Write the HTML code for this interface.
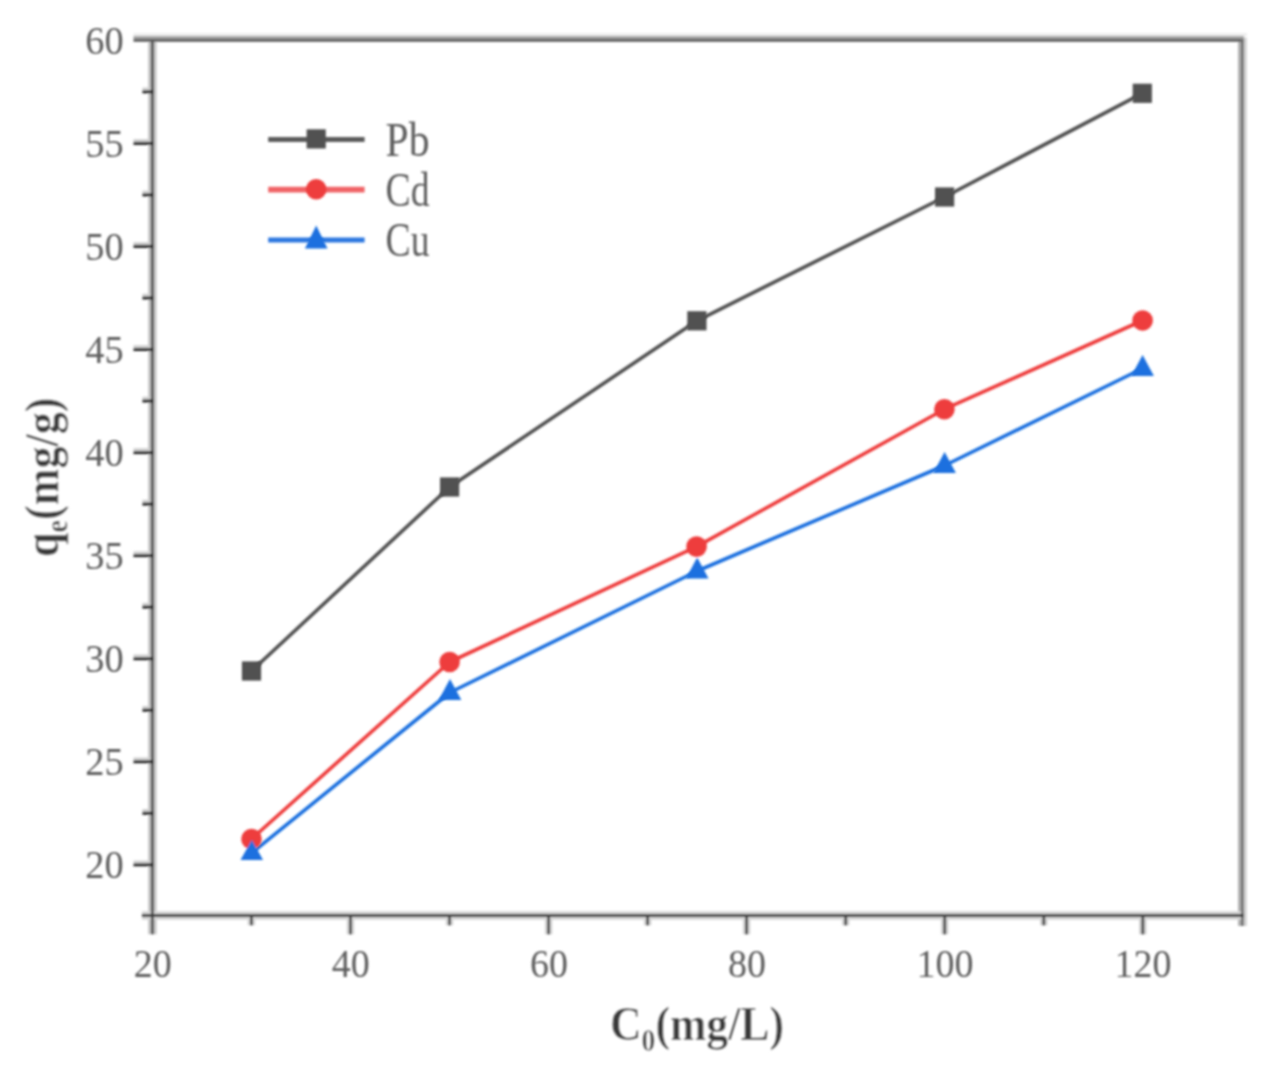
<!DOCTYPE html>
<html lang="en"><head><meta charset="utf-8"><title>Adsorption isotherm chart</title>
<style>
html,body{margin:0;padding:0;background:#fff;}
body{width:1265px;height:1078px;overflow:hidden;}
svg{display:block;}
text{font-family:"Liberation Serif","Noto Serif CJK SC",serif;}
.tick{font-size:41px;fill:#5e5e5e;}
.leg{font-size:49px;fill:#5e5e5e;}
.ttl{font-size:49px;font-weight:bold;fill:#3a3a3a;stroke:#fff;stroke-width:0.55px;paint-order:fill stroke;}
</style></head><body>
<svg width="1265" height="1078" viewBox="0 0 1265 1078">
<defs>
<filter id="ba" x="0" y="0" width="1265" height="1078" filterUnits="userSpaceOnUse"><feGaussianBlur stdDeviation="0.9"/></filter>
<filter id="b" x="0" y="0" width="1265" height="1078" filterUnits="userSpaceOnUse"><feGaussianBlur stdDeviation="1.15"/></filter>
<filter id="bm" x="0" y="0" width="1265" height="1078" filterUnits="userSpaceOnUse"><feGaussianBlur stdDeviation="1.0"/></filter>
<filter id="bt" x="0" y="0" width="1265" height="1078" filterUnits="userSpaceOnUse"><feGaussianBlur stdDeviation="1.0"/></filter>
</defs>
<rect width="1265" height="1078" fill="#ffffff"/>

<g filter="url(#ba)">
<line x1="133.5" y1="34.6" x2="1247.0" y2="34.6" stroke="#eeeeee" stroke-width="3.0"/>
<line x1="133.5" y1="37.5" x2="1243.9" y2="37.5" stroke="#a2a2a2" stroke-width="2.9"/>
<line x1="1239.5" y1="40.4" x2="1239.5" y2="926.0" stroke="#b2b2b2" stroke-width="3.0"/>
<line x1="1245.4" y1="37.4" x2="1245.4" y2="926.0" stroke="#d2d2d2" stroke-width="3.0"/>
<line x1="152.4" y1="40.4" x2="152.4" y2="934.3" stroke="#c9c9c9" stroke-width="8.6"/>
<line x1="141.9" y1="915.5" x2="1243.9" y2="915.5" stroke="#d4d4d4" stroke-width="8.3"/>
<line x1="133.5" y1="861.9" x2="152.4" y2="861.9" stroke="#d0d0d0" stroke-width="2.8"/>
<line x1="142.4" y1="810.4" x2="152.4" y2="810.4" stroke="#d0d0d0" stroke-width="2.8"/>
<line x1="133.5" y1="758.8" x2="152.4" y2="758.8" stroke="#d0d0d0" stroke-width="2.8"/>
<line x1="142.4" y1="707.3" x2="152.4" y2="707.3" stroke="#d0d0d0" stroke-width="2.8"/>
<line x1="133.5" y1="655.8" x2="152.4" y2="655.8" stroke="#d0d0d0" stroke-width="2.8"/>
<line x1="142.4" y1="604.2" x2="152.4" y2="604.2" stroke="#d0d0d0" stroke-width="2.8"/>
<line x1="133.5" y1="552.7" x2="152.4" y2="552.7" stroke="#d0d0d0" stroke-width="2.8"/>
<line x1="142.4" y1="501.2" x2="152.4" y2="501.2" stroke="#d0d0d0" stroke-width="2.8"/>
<line x1="133.5" y1="449.6" x2="152.4" y2="449.6" stroke="#d0d0d0" stroke-width="2.8"/>
<line x1="142.4" y1="398.1" x2="152.4" y2="398.1" stroke="#d0d0d0" stroke-width="2.8"/>
<line x1="133.5" y1="346.6" x2="152.4" y2="346.6" stroke="#d0d0d0" stroke-width="2.8"/>
<line x1="142.4" y1="295.1" x2="152.4" y2="295.1" stroke="#d0d0d0" stroke-width="2.8"/>
<line x1="133.5" y1="243.5" x2="152.4" y2="243.5" stroke="#d0d0d0" stroke-width="2.8"/>
<line x1="142.4" y1="192.0" x2="152.4" y2="192.0" stroke="#d0d0d0" stroke-width="2.8"/>
<line x1="133.5" y1="140.5" x2="152.4" y2="140.5" stroke="#d0d0d0" stroke-width="2.8"/>
<line x1="142.4" y1="88.9" x2="152.4" y2="88.9" stroke="#d0d0d0" stroke-width="2.8"/>
<line x1="251.4" y1="915.5" x2="251.4" y2="925.3" stroke="#d6d6d6" stroke-width="7.6"/>
<line x1="350.5" y1="915.5" x2="350.5" y2="934.3" stroke="#d6d6d6" stroke-width="7.6"/>
<line x1="449.5" y1="915.5" x2="449.5" y2="925.3" stroke="#d6d6d6" stroke-width="7.6"/>
<line x1="548.6" y1="915.5" x2="548.6" y2="934.3" stroke="#d6d6d6" stroke-width="7.6"/>
<line x1="647.6" y1="915.5" x2="647.6" y2="925.3" stroke="#d6d6d6" stroke-width="7.6"/>
<line x1="746.6" y1="915.5" x2="746.6" y2="934.3" stroke="#d6d6d6" stroke-width="7.6"/>
<line x1="845.7" y1="915.5" x2="845.7" y2="925.3" stroke="#d6d6d6" stroke-width="7.6"/>
<line x1="944.7" y1="915.5" x2="944.7" y2="934.3" stroke="#d6d6d6" stroke-width="7.6"/>
<line x1="1043.8" y1="915.5" x2="1043.8" y2="925.3" stroke="#d6d6d6" stroke-width="7.6"/>
<line x1="1142.8" y1="915.5" x2="1142.8" y2="934.3" stroke="#d6d6d6" stroke-width="7.6"/>
<line x1="133.5" y1="40.4" x2="1243.9" y2="40.4" stroke="#5c5c5c" stroke-width="2.9"/>
<line x1="1242.4" y1="39.0" x2="1242.4" y2="926.0" stroke="#707070" stroke-width="2.9"/>
<line x1="152.4" y1="39.0" x2="152.4" y2="934.3" stroke="#5a5a5a" stroke-width="3.1"/>
<line x1="141.9" y1="915.5" x2="1243.9" y2="915.5" stroke="#3c3c3c" stroke-width="2.8"/>
<line x1="133.5" y1="864.8" x2="153.9" y2="864.8" stroke="#2e2e2e" stroke-width="3.1"/>
<line x1="142.4" y1="813.3" x2="153.9" y2="813.3" stroke="#2e2e2e" stroke-width="3.1"/>
<line x1="133.5" y1="761.7" x2="153.9" y2="761.7" stroke="#2e2e2e" stroke-width="3.1"/>
<line x1="142.4" y1="710.2" x2="153.9" y2="710.2" stroke="#2e2e2e" stroke-width="3.1"/>
<line x1="133.5" y1="658.7" x2="153.9" y2="658.7" stroke="#2e2e2e" stroke-width="3.1"/>
<line x1="142.4" y1="607.1" x2="153.9" y2="607.1" stroke="#2e2e2e" stroke-width="3.1"/>
<line x1="133.5" y1="555.6" x2="153.9" y2="555.6" stroke="#2e2e2e" stroke-width="3.1"/>
<line x1="142.4" y1="504.1" x2="153.9" y2="504.1" stroke="#2e2e2e" stroke-width="3.1"/>
<line x1="133.5" y1="452.6" x2="153.9" y2="452.6" stroke="#2e2e2e" stroke-width="3.1"/>
<line x1="142.4" y1="401.0" x2="153.9" y2="401.0" stroke="#2e2e2e" stroke-width="3.1"/>
<line x1="133.5" y1="349.5" x2="153.9" y2="349.5" stroke="#2e2e2e" stroke-width="3.1"/>
<line x1="142.4" y1="298.0" x2="153.9" y2="298.0" stroke="#2e2e2e" stroke-width="3.1"/>
<line x1="133.5" y1="246.4" x2="153.9" y2="246.4" stroke="#2e2e2e" stroke-width="3.1"/>
<line x1="142.4" y1="194.9" x2="153.9" y2="194.9" stroke="#2e2e2e" stroke-width="3.1"/>
<line x1="133.5" y1="143.4" x2="153.9" y2="143.4" stroke="#2e2e2e" stroke-width="3.1"/>
<line x1="142.4" y1="91.8" x2="153.9" y2="91.8" stroke="#2e2e2e" stroke-width="3.1"/>
<line x1="251.4" y1="915.5" x2="251.4" y2="925.3" stroke="#4a4a4a" stroke-width="2.9"/>
<line x1="350.5" y1="915.5" x2="350.5" y2="934.3" stroke="#4a4a4a" stroke-width="2.9"/>
<line x1="449.5" y1="915.5" x2="449.5" y2="925.3" stroke="#4a4a4a" stroke-width="2.9"/>
<line x1="548.6" y1="915.5" x2="548.6" y2="934.3" stroke="#4a4a4a" stroke-width="2.9"/>
<line x1="647.6" y1="915.5" x2="647.6" y2="925.3" stroke="#4a4a4a" stroke-width="2.9"/>
<line x1="746.6" y1="915.5" x2="746.6" y2="934.3" stroke="#4a4a4a" stroke-width="2.9"/>
<line x1="845.7" y1="915.5" x2="845.7" y2="925.3" stroke="#4a4a4a" stroke-width="2.9"/>
<line x1="944.7" y1="915.5" x2="944.7" y2="934.3" stroke="#4a4a4a" stroke-width="2.9"/>
<line x1="1043.8" y1="915.5" x2="1043.8" y2="925.3" stroke="#4a4a4a" stroke-width="2.9"/>
<line x1="1142.8" y1="915.5" x2="1142.8" y2="934.3" stroke="#4a4a4a" stroke-width="2.9"/>
</g>
<g filter="url(#b)">
<polyline fill="none" stroke="#515151" stroke-width="3.6" stroke-linejoin="round" points="251.5,671.0 449.6,487.0 696.9,320.8 944.6,197.0 1142.3,93.3"/>
<polyline fill="none" stroke="#ee3c3c" stroke-width="3.6" stroke-linejoin="round" points="251.5,839.0 449.6,662.0 696.6,546.6 944.4,409.2 1142.6,320.5"/>
<polyline fill="none" stroke="#1a6fdf" stroke-width="3.6" stroke-linejoin="round" points="251.8,852.8 450.0,692.5 697.2,571.0 944.6,465.5 1142.6,368.5"/>
<line x1="268.2" y1="139.5" x2="364.6" y2="139.5" stroke="#5c5c5c" stroke-width="4.9"/>
<line x1="268.2" y1="189.7" x2="364.6" y2="189.7" stroke="#f06466" stroke-width="5.8"/>
<line x1="268.2" y1="239.9" x2="364.6" y2="239.9" stroke="#2b77e0" stroke-width="5.0"/>
</g>
<g filter="url(#bm)">
<rect x="241.9" y="661.4" width="19.2" height="19.2" fill="#515151"/>
<rect x="440.0" y="477.4" width="19.2" height="19.2" fill="#515151"/>
<rect x="687.3" y="311.2" width="19.2" height="19.2" fill="#515151"/>
<rect x="935.0" y="187.4" width="19.2" height="19.2" fill="#515151"/>
<rect x="1132.7" y="83.7" width="19.2" height="19.2" fill="#515151"/>
<circle cx="251.5" cy="839.0" r="10.3" fill="#ee3c3c"/>
<circle cx="449.6" cy="662.0" r="10.3" fill="#ee3c3c"/>
<circle cx="696.6" cy="546.6" r="10.3" fill="#ee3c3c"/>
<circle cx="944.4" cy="409.2" r="10.3" fill="#ee3c3c"/>
<circle cx="1142.6" cy="320.5" r="10.3" fill="#ee3c3c"/>
<polygon points="251.8,840.0 240.5,860.0 263.1,860.0" fill="#1a6fdf"/>
<polygon points="450.0,679.0 438.7,700.0 461.3,700.0" fill="#1a6fdf"/>
<polygon points="697.2,557.5 685.9,578.5 708.5,578.5" fill="#1a6fdf"/>
<polygon points="944.6,452.0 933.3,473.0 955.9,473.0" fill="#1a6fdf"/>
<polygon points="1142.6,355.0 1131.3,376.0 1153.9,376.0" fill="#1a6fdf"/>
<rect x="306.6" y="129.3" width="19.2" height="19.2" fill="#515151"/>
<circle cx="316.2" cy="189.3" r="10.3" fill="#ee3c3c"/>
<polygon points="316.2,225.4 304.9,248.4 327.5,248.4" fill="#1a6fdf"/>
</g>
<g filter="url(#bt)">
<text class="tick" x="85.3" y="878.2" textLength="38.4" lengthAdjust="spacingAndGlyphs">20</text>
<text class="tick" x="85.3" y="775.1" textLength="38.4" lengthAdjust="spacingAndGlyphs">25</text>
<text class="tick" x="85.3" y="672.1" textLength="38.4" lengthAdjust="spacingAndGlyphs">30</text>
<text class="tick" x="85.3" y="569.0" textLength="38.4" lengthAdjust="spacingAndGlyphs">35</text>
<text class="tick" x="85.3" y="465.9" textLength="38.4" lengthAdjust="spacingAndGlyphs">40</text>
<text class="tick" x="85.3" y="362.9" textLength="38.4" lengthAdjust="spacingAndGlyphs">45</text>
<text class="tick" x="85.3" y="259.8" textLength="38.4" lengthAdjust="spacingAndGlyphs">50</text>
<text class="tick" x="85.3" y="156.8" textLength="38.4" lengthAdjust="spacingAndGlyphs">55</text>
<text class="tick" x="85.3" y="53.7" textLength="38.4" lengthAdjust="spacingAndGlyphs">60</text>
<text class="tick" x="133.7" y="977" textLength="38.0" lengthAdjust="spacingAndGlyphs">20</text>
<text class="tick" x="331.8" y="977" textLength="38.0" lengthAdjust="spacingAndGlyphs">40</text>
<text class="tick" x="529.9" y="977" textLength="38.0" lengthAdjust="spacingAndGlyphs">60</text>
<text class="tick" x="727.9" y="977" textLength="38.0" lengthAdjust="spacingAndGlyphs">80</text>
<text class="tick" x="916.5" y="977" textLength="57.0" lengthAdjust="spacingAndGlyphs">100</text>
<text class="tick" x="1114.6" y="977" textLength="57.0" lengthAdjust="spacingAndGlyphs">120</text>
<text class="leg" x="385.5" y="155.6" textLength="44" lengthAdjust="spacingAndGlyphs">Pb</text>
<text class="leg" x="385.5" y="206" textLength="44" lengthAdjust="spacingAndGlyphs">Cd</text>
<text class="leg" x="385.5" y="256" textLength="44" lengthAdjust="spacingAndGlyphs">Cu</text>
<text class="ttl" x="610" y="1039.5" textLength="174" lengthAdjust="spacingAndGlyphs">C<tspan font-size="31" dy="11">0</tspan><tspan dy="-11">(mg/L)</tspan></text>
<text class="ttl" transform="translate(58.2,557) rotate(-90)" x="0" y="0" textLength="159.5" lengthAdjust="spacingAndGlyphs">q<tspan font-size="31" dy="9">e</tspan><tspan dy="-9">(mg/g)</tspan></text>
</g>
</svg></body></html>
